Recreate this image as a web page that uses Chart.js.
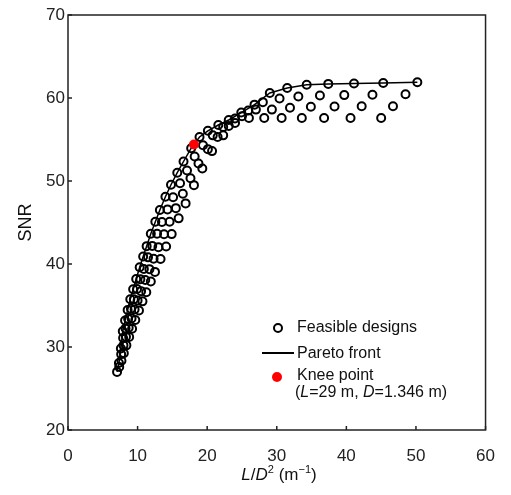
<!DOCTYPE html>
<html>
<head>
<meta charset="utf-8">
<script src="https://cdn.jsdelivr.net/npm/chart.js@4.4.1/dist/chart.umd.min.js"></script>
<style>
  body { margin: 0; background: #fff; }
  #wrap { position: relative; width: 511px; height: 495px; font-family: "Liberation Sans", Arial, sans-serif; color: #111; }
  #c { position: absolute; left: 0; top: 0; }
  .txt { position: absolute; font-size: 16px; line-height: 18px; white-space: nowrap; }
  .xtitle { position: absolute; left: 68px; width: 422px; top: 465px; text-align: center; font-size: 17px; line-height: 20px; }
  .xtitle sup { font-size: 11px; vertical-align: 7px; line-height: 0; }
  .mk-open { position: absolute; width: 6px; height: 6px; border: 2px solid #000; border-radius: 50%; }
  .mk-line { position: absolute; height: 2px; background: #000; }
  .mk-red { position: absolute; width: 10px; height: 10px; border-radius: 50%; background: #ff0000; }
</style>
</head>
<body>
<div id="wrap">
  <canvas id="c" width="511" height="495"></canvas>
  <div class="xtitle"><i>L</i>/<i>D</i><sup>2</sup> (m<sup>&minus;1</sup>)</div>

  <div class="mk-open" style="left:273px; top:323px;"></div>
  <div class="txt" style="left:297px; top:318px;">Feasible designs</div>
  <div class="mk-line" style="left:262px; top:352px; width:32px;"></div>
  <div class="txt" style="left:297px; top:344px;">Pareto front</div>
  <div class="mk-red" style="left:272px; top:372px;"></div>
  <div class="txt" style="left:297px; top:366px;">Knee point</div>
  <div class="txt" style="left:295px; top:383px;">(<i>L</i>=29 m, <i>D</i>=1.346 m)</div>
</div>
<script>
// feasible designs, one strand per tube length L
const xL26 = [45.0, 40.6, 36.8, 33.6, 30.7, 28.2, 26.0, 24.0, 22.3, 20.7, 19.3, 18.1, 16.9, 15.9, 14.9, 14.1, 13.3, 12.5, 11.9, 11.25, 10.7, 10.2, 9.67, 9.21, 8.79, 8.39, 8.02, 7.68, 7.36, 7.05];
const snrL26 = [57.6, 57.6, 57.6, 57.6, 57.6, 57.6, 57.6, 57.0, 55.5, 53.6, 51.5, 49.5, 47.3, 45.5, 43.6, 42.1, 40.6, 39.05, 37.9, 36.6, 35.5, 34.4, 33.25, 32.2, 31.2, 30.2, 29.25, 28.35, 27.6, 27.0];

const xL27 = [46.7, 42.2, 38.3, 34.9, 31.9, 29.3, 27.0, 25.0, 23.1, 21.5, 20.1, 18.75, 17.6, 16.5, 15.5, 14.6, 13.8, 13.0, 12.3, 11.7, 11.1, 10.5, 10.0, 9.57, 9.13, 8.72, 8.33, 7.97, 7.64, 7.32];
const snrL27 = [59.0, 59.0, 58.97, 58.94, 58.82, 58.6, 58.6, 57.8, 56.64, 55.3, 53.84, 52.1, 50.33, 48.47, 46.73, 45.09, 43.58, 42.03, 40.63, 39.38, 38.08, 36.73, 35.6, 34.52, 33.43, 32.32, 31.23, 30.2, 29.12, 28.07];

const xL28 = [48.5, 43.75, 39.7, 36.2, 33.1, 30.4, 28.0, 25.9, 24.0, 22.3, 20.8, 19.4, 18.2, 17.1, 16.1, 15.1, 14.3, 13.5, 12.8, 12.1, 11.5, 10.9, 10.4, 9.92, 9.46, 9.04, 8.64, 8.27, 7.92, 7.60];
const snrL28 = [60.45, 60.4, 60.35, 60.3, 60.19, 59.95, 59.5, 58.5, 57.53, 56.5, 55.5, 54.3, 52.95, 51.27, 49.72, 48.04, 46.58, 45.05, 43.65, 42.18, 40.8, 39.39, 38.17, 36.99, 35.74, 34.61, 33.39, 32.24, 31.08, 29.83];

const xL29 = [50.2, 45.3, 41.1, 37.4, 34.3, 31.5, 29.0, 26.8, 24.9, 23.1, 21.6, 20.1, 18.9, 17.7, 16.6, 15.7, 14.8, 14.0, 13.2, 12.55, 11.9, 11.3, 10.8, 10.3, 9.80, 9.36, 8.95, 8.57, 8.20, 7.87];
const snrL29 = [61.9, 61.8, 61.75, 61.7, 61.6, 61.2, 60.6, 59.2, 58.25, 57.35, 56.75, 56.05, 55.3, 53.95, 52.35, 51.0, 49.55, 48.1, 46.5, 45.1, 43.65, 42.15, 40.9, 39.6, 38.2, 36.95, 35.75, 34.45, 33.2, 31.9];

// pareto front
const paretoX = [7.05, 7.32, 7.60, 7.87, 8.20, 8.57, 8.95, 9.36, 9.80, 10.3, 10.8, 11.3, 11.9, 12.55, 13.2, 14.0, 14.8, 15.7, 16.6, 17.7, 18.9, 20.1, 21.6, 23.1, 24.9, 26.8, 29.0, 31.5, 34.3, 37.4, 41.1, 45.3, 50.2];
const paretoY = [27.0, 28.07, 29.83, 31.9, 33.2, 34.45, 35.75, 36.95, 38.2, 39.6, 40.9, 42.15, 43.65, 45.1, 46.5, 48.1, 49.55, 51.0, 52.35, 53.95, 55.3, 56.05, 56.75, 57.35, 58.25, 59.2, 60.6, 61.2, 61.6, 61.7, 61.75, 61.8, 61.9];

// knee point (L=29 m, D=1.346 m)
const kneeX = [18.1];
const kneeY = [54.4];

const xTicks = [0, 10, 20, 30, 40, 50, 60];
const yTicks = [20, 30, 40, 50, 60, 70];

function toPts(xs, ys) {
  return xs.map((x, i) => ({ x: x, y: ys[i] }));
}

function strand(xs, ys) {
  return {
    type: 'scatter',
    data: toPts(xs, ys),
    pointStyle: 'circle',
    pointRadius: 4,
    pointBorderWidth: 2,
    pointBorderColor: '#000',
    pointBackgroundColor: 'transparent',
    showLine: false
  };
}

// frame box + inward tick marks, like the original figure
const frame = {
  id: 'frame',
  afterDatasetsDraw(chart) {
    const ctx = chart.ctx;
    const a = chart.chartArea;
    const sx = chart.scales.x, sy = chart.scales.y;
    ctx.save();
    ctx.strokeStyle = '#222';
    ctx.lineWidth = 1.5;
    ctx.strokeRect(a.left, a.top, a.right - a.left, a.bottom - a.top);
    ctx.beginPath();
    sx.ticks.forEach(t => {
      const px = sx.getPixelForValue(t.value);
      ctx.moveTo(px, a.bottom); ctx.lineTo(px, a.bottom - 4);
    });
    sy.ticks.forEach(t => {
      const py = sy.getPixelForValue(t.value);
      ctx.moveTo(a.left, py); ctx.lineTo(a.left + 4, py);
    });
    ctx.stroke();
    ctx.restore();
  }
};

new Chart(document.getElementById('c'), {
  type: 'scatter',
  data: {
    datasets: [
      {
        type: 'scatter',
        data: toPts(kneeX, kneeY),
        pointRadius: 5,
        pointBorderWidth: 0,
        pointBackgroundColor: '#ff0000'
      },
      {
        type: 'line',
        data: toPts(paretoX, paretoY),
        borderColor: '#000',
        borderWidth: 1.5,
        pointRadius: 0,
        tension: 0,
        fill: false
      },
      strand(xL26, snrL26),
      strand(xL27, snrL27),
      strand(xL28, snrL28),
      strand(xL29, snrL29)
    ]
  },
  options: {
    responsive: false,
    animation: false,
    events: [],
    layout: { padding: { top: 15, right: 21, left: 0, bottom: 0 } },
    plugins: { legend: { display: false }, tooltip: { enabled: false } },
    scales: {
      x: {
        type: 'linear', min: 0, max: 60,
        afterBuildTicks: s => { s.ticks = xTicks.map(v => ({ value: v })); },
        afterFit: s => { s.height = 65; },
        grid: { display: false, drawTicks: false },
        border: { display: false },
        ticks: { padding: 16, color: '#222', font: { family: 'Liberation Sans', size: 17 } }
      },
      y: {
        type: 'linear', min: 20, max: 70,
        afterBuildTicks: s => { s.ticks = yTicks.map(v => ({ value: v })); },
        afterFit: s => { s.width = 68; },
        grid: { display: false, drawTicks: false },
        border: { display: false },
        title: { display: true, text: 'SNR', color: '#111', padding: { top: 15, bottom: 0 }, font: { family: 'Liberation Sans', size: 18 } },
        ticks: { padding: 3, color: '#222', font: { family: 'Liberation Sans', size: 17 } }
      }
    }
  },
  plugins: [frame]
});
</script>
</body>
</html>
